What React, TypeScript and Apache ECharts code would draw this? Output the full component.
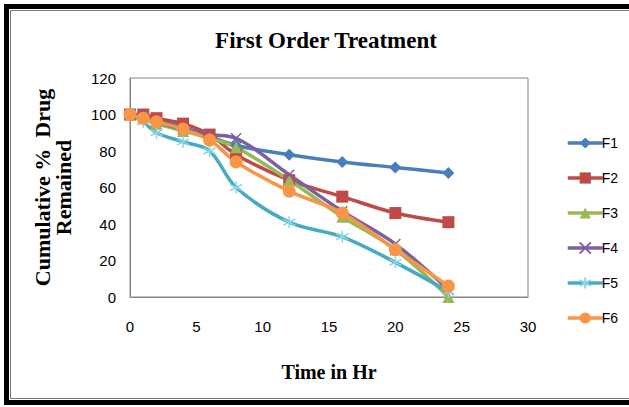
import React, { useEffect, useRef } from "react";
import * as echarts from "echarts";

const timeHr = [0, 1, 2, 4, 6, 8, 12, 16, 20, 24];
const seriesNames = ["F1", "F2", "F3", "F4", "F5", "F6"];
const f1 = [100, 99, 97, 93, 88, 83, 78, 74, 71, 68];
const f2 = [100, 100, 98, 95, 89, 78, 64, 55, 46, 41];
const f3 = [100, 98, 95, 91, 87, 82, 64, 44, 26, 0];
const f4 = [100, 99, 96, 92, 89, 87, 67, 47, 29, 4];
const f5 = [100, 96, 90, 85, 80, 60, 41, 33, 19, 3];
const f6 = [100, 98, 96, 92, 86, 74, 58, 46, 26, 6];
const seriesValues = [f1, f2, f3, f4, f5, f6];

const lineColors = ["#4A7EBB", "#BE4B48", "#98B954", "#7D60A0", "#46AAC5", "#F79646"];
const markerColors = ["#4A7EBB", "#BE4B48", "#98B954", "#7D60A0", "#8DD3E8", "#F79646"];
const symbols = [
  "diamond",
  "rect",
  "triangle",
  "path://M0 0L10 10M10 0L0 10",
  "path://M5 0L5 10M0.7 2.5L9.3 7.5M9.3 2.5L0.7 7.5",
  "circle",
];
const symbolSizes = [12, 12, 12, 10, 12, 13];

export default function App() {
  const ref = useRef<HTMLDivElement>(null);
  useEffect(() => {
    document.body.style.margin = "0";
    if (!ref.current) return;
    const chart = echarts.init(ref.current, null, { renderer: "svg" });
    const series = seriesNames.map((name, i) => {
      const isPath = i === 3 || i === 4;
      return {
        name,
        type: "line",
        smooth: 0.35,
        data: timeHr.map((t, j) => [t, seriesValues[i][j]]),
        symbol: symbols[i],
        symbolSize: symbolSizes[i],
        showAllSymbol: true,
        lineStyle: { color: lineColors[i], width: 3.5 },
        itemStyle: isPath
          ? { color: markerColors[i], borderColor: markerColors[i], borderWidth: 1.5 }
          : { color: markerColors[i], borderWidth: 0 },
        emphasis: { disabled: true },
      };
    });
    chart.setOption({
      animation: false,
      backgroundColor: "#ffffff",
      title: {
        text: "First Order Treatment",
        left: 321,
        textAlign: "center",
        top: 24,
        textStyle: {
          fontFamily: "Liberation Serif",
          fontWeight: "bold",
          fontSize: 23,
          color: "#000",
        },
      },
      legend: {
        orient: "vertical",
        left: 561,
        top: 131,
        itemWidth: 35,
        itemHeight: 14,
        itemGap: 21,
        lineStyle: { width: 3.5 },
        textStyle: { fontFamily: "Liberation Sans", fontSize: 14, color: "#000", padding: [0, 0, 0, -6] },
        data: seriesNames,
      },
      grid: { left: 130, top: 78, right: 101, bottom: 110, show: true, borderColor: "#868686", borderWidth: 1, backgroundColor: "transparent" },
      xAxis: {
        type: "value",
        min: 0,
        max: 30,
        interval: 5,
        name: "Time in Hr",
        nameLocation: "middle",
        nameGap: 65,
        nameTextStyle: { fontFamily: "Liberation Serif", fontWeight: "bold", fontSize: 20, color: "#000" },
        axisLine: { show: true, lineStyle: { color: "#868686" } },
        axisTick: { show: false },
        splitLine: { show: false },
        axisLabel: { margin: 22, fontFamily: "Liberation Sans", fontSize: 15, color: "#000" },
      },
      yAxis: {
        type: "value",
        min: 0,
        max: 120,
        interval: 20,
        name: "Cumulative %  Drug\nRemained",
        nameLocation: "middle",
        nameRotate: 90,
        nameGap: 56,
        nameTextStyle: { fontFamily: "Liberation Serif", fontWeight: "bold", fontSize: 22, color: "#000", lineHeight: 21, align: "center" },
        axisLine: { show: true, lineStyle: { color: "#868686" } },
        axisTick: { show: false },
        splitLine: { show: false },
        axisLabel: { margin: 14, fontFamily: "Liberation Sans", fontSize: 15, color: "#000" },
      },
      graphic: [
        { type: "rect", shape: { x: 6.5, y: 6.5, width: 700, height: 396 }, style: { fill: "none", stroke: "#000", lineWidth: 5 }, silent: true },
        { type: "rect", shape: { x: 10.5, y: 10.5, width: 700, height: 388 }, style: { fill: "none", stroke: "#777", lineWidth: 1 }, silent: true },
      ],
      series,
    });
    return () => chart.dispose();
  }, []);
  return <div ref={ref} style={{ width: 629, height: 407 }} />;
}
